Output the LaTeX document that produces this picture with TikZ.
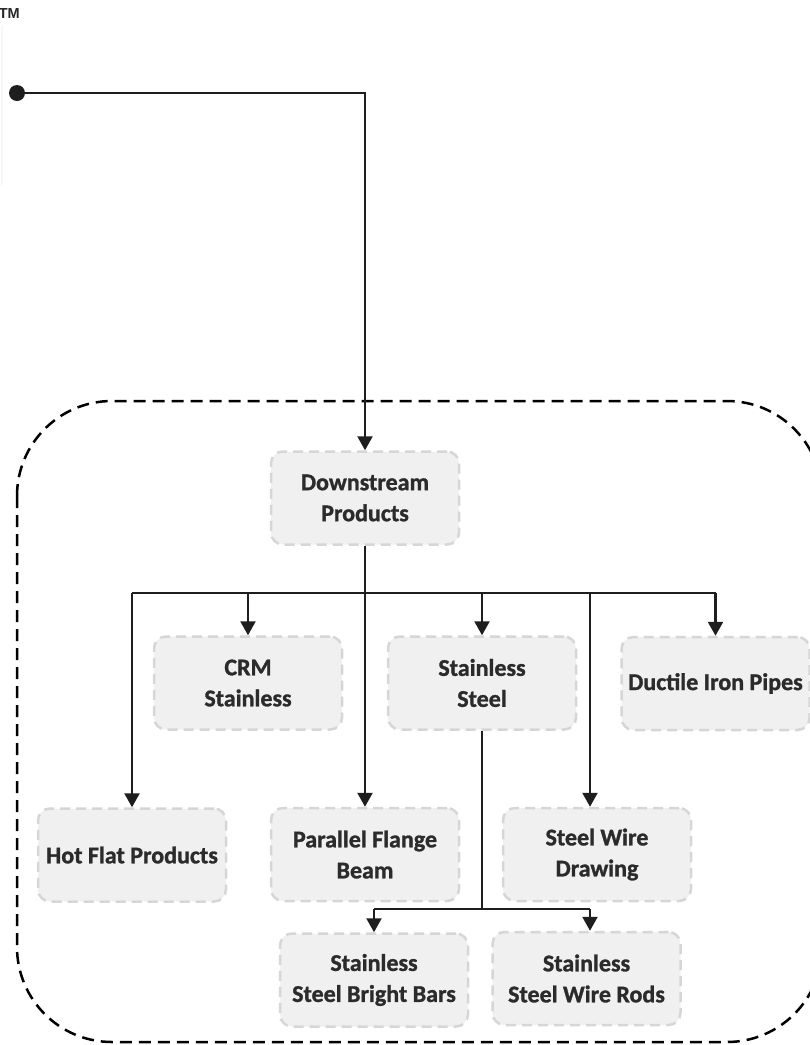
\documentclass[tikz,border=0pt]{standalone}
\usepackage{fontspec}
\setmainfont{Carlito}[BoldFont={Carlito Bold}, BoldFeatures={FakeBold=1.2}]
\newfontfamily\tmfont{Liberation Sans}[BoldFont={Liberation Sans Bold}]
\usetikzlibrary{arrows.meta}
\definecolor{boxfill}{HTML}{F0F0F0}
\definecolor{boxline}{HTML}{D6D6D6}
\definecolor{txt}{HTML}{2B2B2B}
\definecolor{conncol}{HTML}{1E1E1E}
\tikzset{
  prodbox/.style={rectangle, rounded corners=12pt, fill=boxfill, draw=boxline,
    dash pattern=on 10pt off 6pt, line width=2.5pt, minimum width=188pt,
    minimum height=93pt, align=center, text=txt,
    font=\fontsize{24}{31}\selectfont\bfseries, inner sep=2pt},
  conn/.style={draw=conncol, line width=2.4pt},
  arr/.style={-{Triangle[width=15pt,length=14pt]}},
  frame/.style={draw=black, line width=2.5pt, dash pattern=on 12pt off 7pt, rounded corners=95pt}
}
\begin{document}
\begin{tikzpicture}[x=1pt,y=-1pt]
\useasboundingbox (0,0) rectangle (810,1045);
% faint edge line
\draw[gray!6, line width=2pt] (1.5,25) -- (1.5,185);
% TM
\node[anchor=north east, inner sep=0pt, text=black!85, font=\tmfont\fontsize{14.5}{14.5}\selectfont\bfseries] (tm) at (20,8.5) {TM};
% container
\draw[frame] (17,401) rectangle (822,1042);
% nodes
\node[prodbox] (ds)   at (365,498) {Downstream\\Products};
\node[prodbox] (crm)  at (248,683) {CRM\\Stainless};
\node[prodbox] (ss)   at (482,683) {Stainless\\Steel};
\node[prodbox] (dip)  at (715.5,683.5) {Ductile Iron Pipes};
\node[prodbox] (hfp)  at (132,855) {Hot Flat Products};
\node[prodbox] (pfb)  at (365,854.5) {Parallel Flange\\Beam};
\node[prodbox] (swd)  at (597,854.5) {Steel Wire\\Drawing};
\node[prodbox] (ssbb) at (374,980) {Stainless\\Steel Bright Bars};
\node[prodbox] (sswr) at (586.5,978.5) {Stainless\\Steel Wire Rods};
% coordinates
\coordinate (start) at (17,93);
\coordinate (bus) at (0,593);
\coordinate (bus2) at (0,909);
% connectors
\fill[conncol] (start) circle (8pt);
\draw[conn,arr] (start) -| (ds.north);
\draw[conn,arr] (ds.south) -- (pfb.north);
\draw[conn] (hfp.north |- bus) -- (dip.north |- bus);
\draw[conn,arr] (hfp.north |- bus) -- (hfp.north);
\draw[conn,arr] (crm.north |- bus) -- (crm.north);
\draw[conn,arr] (ss.north |- bus) -- (ss.north);
\draw[conn,arr] ([xshift=-7pt]swd.north |- bus) -- ([xshift=-7pt]swd.north);
\draw[conn,arr] (dip.north |- bus) -- (dip.north);
\draw[conn] (ss.south) -- (ss.south |- bus2);
\draw[conn] (ssbb.north |- bus2) -- ([xshift=3.5pt]sswr.north |- bus2);
\draw[conn,arr] (ssbb.north |- bus2) -- (ssbb.north);
\draw[conn,arr] ([xshift=3.5pt]sswr.north |- bus2) -- ([xshift=3.5pt]sswr.north);
\end{tikzpicture}
\end{document}
